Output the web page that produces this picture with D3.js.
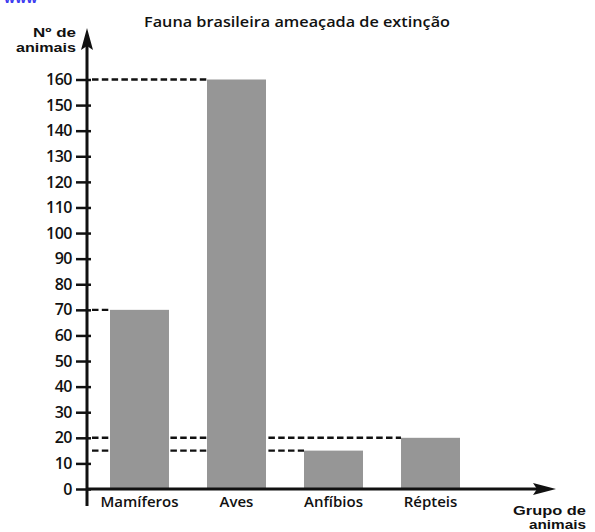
<!DOCTYPE html>
<html>
<head>
<meta charset="utf-8">
<script src="https://cdn.jsdelivr.net/npm/d3@7"></script>
<style>
  body { margin: 0; background: #fff; }
  text { font-family: "Open Sans", sans-serif; font-weight: 600; fill: #111; }
  .tight { font-family: "Liberation Sans", Arial, sans-serif; font-weight: 700; }
</style>
</head>
<body>
<script>
// data
var groups = ["Mamíferos", "Aves", "Anfíbios", "Répteis"];
var counts = [70, 160, 15, 20];
var yTicks = [0, 10, 20, 30, 40, 50, 60, 70, 80, 90, 100, 110, 120, 130, 140, 150, 160];

var width = 595, height = 532;
var axisX = 87, zeroY = 489, topY = 79.5;

var svg = d3.select("body").append("svg")
  .attr("width", width)
  .attr("height", height);

var x = d3.scaleBand()
  .domain(groups)
  .range([110, 460])
  .paddingInner(0.392)
  .paddingOuter(0);

var y = d3.scaleLinear()
  .domain([0, 160])
  .range([zeroY, topY]);

// cropped header fragment at the very top
svg.append("text")
  .attr("x", 4).attr("y", 3)
  .style("font-size", "13px").style("font-weight", "700")
  .style("fill", "#3b3bf0")
  .text("www");

// title
svg.append("text")
  .attr("x", 297).attr("y", 27)
  .attr("text-anchor", "middle")
  .style("font-size", "15px")
  .attr("textLength", 306).attr("lengthAdjust", "spacingAndGlyphs")
  .text("Fauna brasileira ameaçada de extinção");

// axis titles (two short lines each, tight leading)
function twoLines(lines, xr, y0, gap, size, lens) {
  lines.forEach(function(t, i) {
    svg.append("text")
      .attr("class", "tight")
      .attr("x", xr - lens[i]).attr("y", y0 + i * gap)
      .style("font-size", size + "px")
      .attr("textLength", lens[i]).attr("lengthAdjust", "spacingAndGlyphs")
      .text(t);
  });
}
twoLines(["Nº de", "animais"], 76, 37, 15, 13, [43, 60]);
twoLines(["Grupo de", "animais"], 586, 515, 14, 12.5, [73, 57]);

// dashed guide lines from the axis to each bar
svg.append("g").selectAll(".guide")
  .data(groups)
  .enter().append("line")
  .attr("class", "guide")
  .attr("x1", axisX + 5)
  .attr("x2", function(d) { return x(d); })
  .attr("y1", function(d, i) { return y(counts[i]); })
  .attr("y2", function(d, i) { return y(counts[i]); })
  .attr("stroke", "#111")
  .attr("stroke-width", 2.4)
  .attr("stroke-dasharray", "6.5,3.3");

// bars
svg.append("g").selectAll(".bar")
  .data(groups)
  .enter().append("rect")
  .attr("class", "bar")
  .attr("x", function(d) { return x(d); })
  .attr("y", function(d, i) { return y(counts[i]); })
  .attr("width", x.bandwidth())
  .attr("height", function(d, i) { return zeroY - y(counts[i]); })
  .attr("fill", "#969696");

// y axis with ticks crossing the line
var yAxis = svg.append("g")
  .attr("transform", "translate(" + axisX + ",0)")
  .call(d3.axisLeft(y).tickValues(yTicks).tickSize(11).tickPadding(4));
yAxis.select(".domain").remove();
yAxis.selectAll(".tick line")
  .attr("x1", 4)
  .attr("stroke", "#111")
  .attr("stroke-width", 2.5);
yAxis.selectAll(".tick text")
  .style("font-family", "'Open Sans', sans-serif")
  .style("font-weight", "600")
  .style("font-size", "16px")
  .style("letter-spacing", "-0.5px")
  .attr("fill", "#111");

// axis lines with arrows
svg.append("line")
  .attr("x1", axisX).attr("x2", axisX)
  .attr("y1", 506).attr("y2", 42)
  .attr("stroke", "#111").attr("stroke-width", 3);
svg.append("path")
  .attr("d", "M" + axisX + ",28 L" + (axisX + 6) + ",50 L" + axisX + ",46 L" + (axisX - 6) + ",50 Z")
  .attr("fill", "#111");

svg.append("line")
  .attr("x1", axisX).attr("x2", 540)
  .attr("y1", zeroY).attr("y2", zeroY)
  .attr("stroke", "#111").attr("stroke-width", 3);
svg.append("path")
  .attr("d", "M556," + zeroY + " L533," + (zeroY - 6) + " L537," + zeroY + " L533," + (zeroY + 6) + " Z")
  .attr("fill", "#111");

// category labels
svg.append("g").selectAll(".catLabel")
  .data(groups)
  .enter().append("text")
  .attr("class", "catLabel")
  .attr("x", function(d) { return x(d) + x.bandwidth() / 2; })
  .attr("y", 507)
  .attr("text-anchor", "middle")
  .style("font-size", "15px")
  .text(function(d) { return d; });
</script>
</body>
</html>
